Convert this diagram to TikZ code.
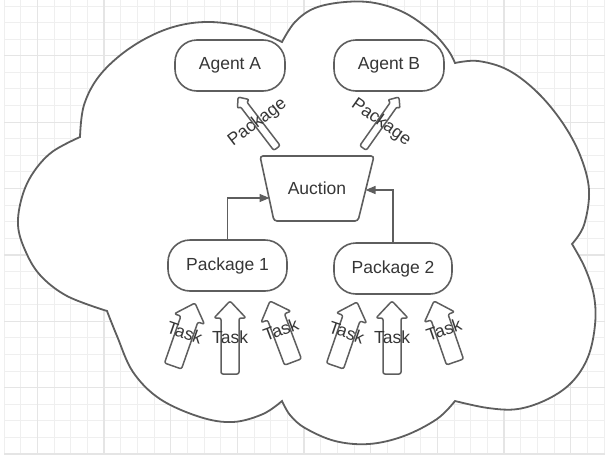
\documentclass[tikz,border=0pt]{standalone}
\usepackage{fontspec}
\setmainfont{Liberation Sans}
\usetikzlibrary{calc,arrows.meta}
\definecolor{ln}{HTML}{5E5E5E}
\definecolor{tx}{HTML}{363636}
\definecolor{gridthin}{HTML}{EFEFEF}
\definecolor{gridthick}{HTML}{E5E5E5}
\newcommand\blockarr[6]{% #1 name, #2 tail, #3 tip, #4 half shaft, #5 half head, #6 head length
  \coordinate (#1-n) at ($(#3)!#6!(#2)$);
  \draw[barrow] ($(#2)!#4!90:(#3)$) -- ($(#1-n)!#4!-90:(#2)$) -- ($(#1-n)!#5!-90:(#2)$) -- (#3)
    -- ($(#1-n)!#5!90:(#2)$) -- ($(#1-n)!#4!90:(#2)$) -- ($(#2)!#4!-90:(#3)$) -- cycle;
}
\tikzset{
  rbox/.style={draw=ln, line width=1.6pt, rounded corners=22pt, fill=white,
    minimum width=110pt, minimum height=51pt, text=tx, inner sep=0pt,
    font=\fontsize{17.5}{20}\selectfont},
  lbl/.style={text=tx, inner sep=0pt, font=\fontsize{17.5}{20}\selectfont},
  conn/.style={draw=ln, line width=1.3pt, -{Triangle[length=10pt,width=8pt]}},
  barrow/.style={draw=ln, line width=1.5pt, fill=white, rounded corners=2pt, line join=round},
  cloudline/.style={draw=ln, line width=1.8pt, fill=white, line join=miter},
}
\begin{document}
\begin{tikzpicture}[x=1pt,y=-1pt]
\useasboundingbox (0,0) rectangle (605,458);
\fill[white] (0,0) rectangle (605,458);
% grid
\foreach \i in {0,...,36} {
  \draw[gridthin, line width=1pt] ({4+\i*16.667},0) -- ({4+\i*16.667},454);
}
\foreach \j in {0,...,27} {
  \draw[gridthin, line width=1pt] (4,{6+\j*16.593}) -- (605,{6+\j*16.593});
}
\foreach \i in {2,6,...,34} {
  \draw[gridthick, line width=1.3pt] ({4+\i*16.667},0) -- ({4+\i*16.667},454);
}
\foreach \j in {3,7,...,27} {
  \draw[gridthick, line width=1.3pt] (4,{6+\j*16.593}) -- (605,{6+\j*16.593});
}
% cloud
\draw[cloudline]
  plot[smooth, tension=0.6] coordinates {(80,137) (84,105) (100,75) (130,48) (167,29) (205,22) (245,27) (282,42)}
  -- plot[smooth, tension=0.6] coordinates {(282,42) (295,22) (315,8) (345,2) (375,3) (405,13) (432,32) (448,50) (455,63)}
  -- plot[smooth, tension=0.6] coordinates {(455,63) (478,61) (508,70) (537,92) (562,122) (580,155) (589,190) (584,225) (572,244)}
  -- plot[smooth, tension=0.6] coordinates {(572,244) (585,268) (594,296) (595,325) (588,357) (572,382) (548,399) (518,409) (488,408) (455,401)}
  -- plot[smooth, tension=0.6] coordinates {(455,401) (437,419) (404,436) (369,444) (335,441) (305,428) (290,415) (282,401)}
  -- plot[smooth, tension=0.6] coordinates {(282,401) (263,414) (233,422) (200,417) (160,399) (133,372) (117,336) (107,311)}
  -- plot[smooth, tension=0.6] coordinates {(107,311) (67,296) (40,275) (25,250) (18,225) (22,197) (33,173) (52,152) (80,137)}
  -- cycle;
% nodes
\node[rbox] (agA) at (230,65.5) {Agent A};
\node[rbox] (agB) at (389,65.5) {Agent B};
\node[rbox, minimum width=119pt] (p1) at (227.5,265.5) {Package 1};
\node[rbox, minimum width=118pt] (p2) at (393,268.5) {Package 2};
\draw[draw=ln, line width=1.6pt, fill=white, rounded corners=3pt] (260,156) -- (374,156) -- (358,221) -- (274,221) -- cycle;
\node[lbl] (auc) at (317,188) {Auction};
% connectors
\coordinate (aL) at (269.5,198);
\coordinate (aR) at (365.5,190);
\draw[conn] (p1.north) |- (aL);
\draw[conn] (p2.north) |- (aR);
% package block arrows
\coordinate (pa1t) at (277,148); \coordinate (pa1h) at (238,97);
\coordinate (pa2t) at (363,148); \coordinate (pa2h) at (399,97);
\blockarr{pa1}{pa1t}{pa1h}{4pt}{7.5pt}{9pt}
\blockarr{pa2}{pa2t}{pa2h}{4pt}{7.5pt}{9pt}
\node[lbl, rotate=37.4] (lpa1) at ($(pa1t)!0.5!(pa1h)$) {Package};
\node[lbl, rotate=-35.2] (lpa2) at ($(pa2t)!0.5!(pa2h)$) {Package};
% task block arrows
\coordinate (t1t) at (173,366); \coordinate (t1h) at (195,303);
\coordinate (t2t) at (230,374); \coordinate (t2h) at (230,301);
\coordinate (t3t) at (293,362); \coordinate (t3h) at (270,301);
\coordinate (t4t) at (335,366); \coordinate (t4h) at (357,302);
\coordinate (t5t) at (392,374); \coordinate (t5h) at (392,301);
\coordinate (t6t) at (455,362); \coordinate (t6h) at (434,301);
\blockarr{t1}{t1t}{t1h}{9pt}{16pt}{17pt}
\blockarr{t2}{t2t}{t2h}{9pt}{16pt}{17pt}
\blockarr{t3}{t3t}{t3h}{9pt}{16pt}{17pt}
\blockarr{t4}{t4t}{t4h}{9pt}{16pt}{17pt}
\blockarr{t5}{t5t}{t5h}{9pt}{16pt}{17pt}
\blockarr{t6}{t6t}{t6h}{9pt}{16pt}{17pt}
\node[lbl, rotate=-19.3] (lt1) at ($(t1t)!0.53!(t1h)$) {Task};
\node[lbl] (lt2) at ($(t2t)!0.5!(t2h)$) {Task};
\node[lbl, rotate=20.7] (lt3) at ($(t3t)!0.53!(t3h)$) {Task};
\node[lbl, rotate=-19] (lt4) at ($(t4t)!0.53!(t4h)$) {Task};
\node[lbl] (lt5) at ($(t5t)!0.5!(t5h)$) {Task};
\node[lbl, rotate=19] (lt6) at ($(t6t)!0.53!(t6h)$) {Task};
\end{tikzpicture}
\end{document}
